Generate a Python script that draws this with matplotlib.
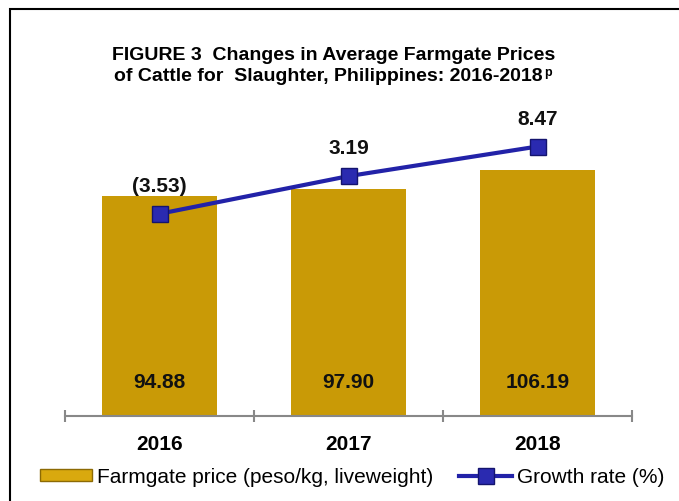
import numpy as np
import matplotlib
matplotlib.use('Agg')
import matplotlib.pyplot as plt
from matplotlib.patches import Patch, Rectangle
from matplotlib.lines import Line2D

plt.rcParams['font.family'] = ['Liberation Sans', 'DejaVu Sans']

years = ['2016', '2017', '2018']
precios = [94.88, 97.90, 106.19]
crecimiento = [-3.53, 3.19, 8.47]
etiquetas_crecimiento = ['(3.53)', '3.19', '8.47']

color_barra = '#C99A06'
color_linea = '#2222A8'

W, H = 679, 502
fig = plt.figure(figsize=(W / 100, H / 100), dpi=100)

# ejes: base en y=417px, 2.32 px por unidad
y0, y1 = 417, 115.4
ax = fig.add_axes([65 / W, (H - y0) / H, (632 - 65) / W, (y0 - y1) / H])
x = np.arange(len(years))
ax.bar(x, precios, width=0.61, color=color_barra, zorder=2)
ax.set_xlim(-0.5, 2.5)
ax.set_ylim(0, 130)
for i, v in enumerate(precios):
    ax.text(i, 12.4, f'{v:.2f}', ha='center', va='baseline',
            fontsize=15, fontweight='bold', color='#111111')

for s in ['top', 'left', 'right']:
    ax.spines[s].set_visible(False)
ax.spines['bottom'].set_color('#888888')
ax.spines['bottom'].set_linewidth(1.5)
ax.set_yticks([])
ax.set_xticks([-0.5, 0.5, 1.5, 2.5])
ax.set_xticklabels([])
ax.tick_params(axis='x', which='major', direction='inout', length=8,
               width=1.5, color='#888888')
ax.set_xticks(x, minor=True)
ax.set_xticklabels(years, minor=True, fontsize=15, fontweight='bold')
ax.tick_params(axis='x', which='minor', length=0, pad=13)

ax2 = ax.twinx()
ax2.set_ylim(-39.6, 14.2)
ax2.axis('off')
ax2.plot(x, crecimiento, color=color_linea, linewidth=3, marker='s',
         markersize=12, markerfacecolor='#2A2AB0', markeredgecolor='#14146E',
         markeredgewidth=1, zorder=3)
for i, (v, t) in enumerate(zip(crecimiento, etiquetas_crecimiento)):
    ax2.annotate(t, (i, v), xytext=(0, 16.5), textcoords='offset points',
                 ha='center', va='baseline', fontsize=15, fontweight='bold',
                 color='#111111')

# titulo
fig.text(334 / W, 1 - 59.5 / H, 'FIGURE 3  Changes in Average Farmgate Prices',
         ha='center', va='baseline', fontsize=14, fontweight='bold')
t2 = fig.text(328 / W, 1 - 81 / H, 'of Cattle for  Slaughter, Philippines: 2016-2018',
              ha='center', va='baseline', fontsize=14, fontweight='bold')
plt.annotate('p', xy=(1, 0.35), xycoords=t2, xytext=(1, 0),
             textcoords='offset points', fontsize=9, fontweight='bold',
             va='bottom', ha='left', annotation_clip=False)

# marco
fig.patches.append(Rectangle((10 / W, -0.5), 2, 1.5 - 10 / H, fill=False,
                             edgecolor='black', linewidth=1.5,
                             transform=fig.transFigure, figure=fig))

manejadores = [
    Patch(facecolor='#D9A90E', edgecolor='#8C6A04', linewidth=1),
    Line2D([0], [0], color=color_linea, linewidth=3, marker='s', markersize=12,
           markerfacecolor='#2A2AB0', markeredgecolor='#14146E'),
]
fig.legend(manejadores, ['Farmgate price (peso/kg, liveweight)', 'Growth rate (%)'],
           loc='center', bbox_to_anchor=(352 / W, 1 - 478 / H), ncol=2,
           frameon=False, fontsize=15, handlelength=2.5, handleheight=0.55,
           handletextpad=0.24, columnspacing=1.25, borderpad=0, borderaxespad=0)

fig.savefig('out.png', dpi=100)
